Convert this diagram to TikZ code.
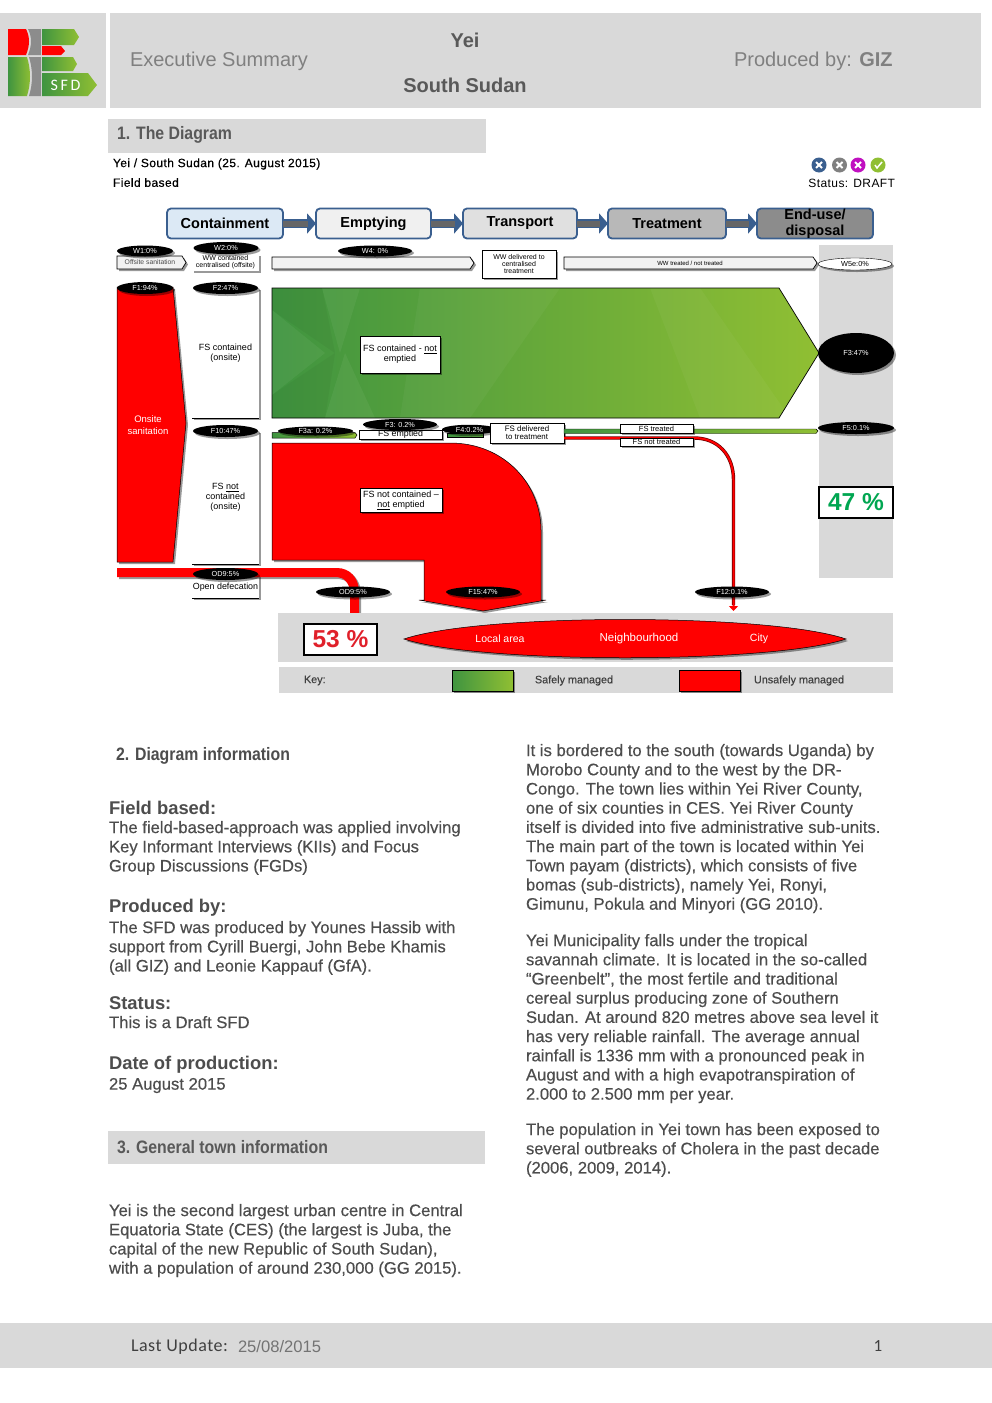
\documentclass[tikz,border=0pt]{standalone}
\usepackage{fontspec}
\setmainfont{Liberation Sans}
\newfontfamily\carl{Carlito}
\usetikzlibrary{shapes.geometric,shadows,arrows.meta}
\definecolor{pagegray}{HTML}{D9D9D9}
\definecolor{stageblue}{HTML}{3A5F8F}
\definecolor{headgray}{HTML}{595959}
\definecolor{bodygray}{HTML}{4D4D4D}
\definecolor{gdark}{HTML}{3F9440}
\definecolor{glight}{HTML}{90BF33}
\definecolor{sfdred}{HTML}{FF0000}
\definecolor{safegreen}{HTML}{00A651}
\definecolor{unsafered}{HTML}{E0202A}
\definecolor{paleblue}{HTML}{DCE9F5}
\definecolor{magentaic}{HTML}{C010C0}
\newcommand{\pxs}[1]{\fontsize{#1}{#1}\selectfont}
\newcommand{\heavy}{\addfontfeature{FakeBold=0.35}}
\newcommand{\spaced}{\addfontfeature{LetterSpace=3.5}}
\newcommand{\narrowed}{\addfontfeature{FakeStretch=0.88}}
\tikzset{
  shad/.style={drop shadow={shadow xshift=2pt,shadow yshift=-2pt,opacity=.4,fill=black}},
  plain/.style={inner sep=0pt,outer sep=0pt},
  stagebox/.style={draw=stageblue,line width=1.8pt,rounded corners=4pt,minimum height=30pt,plain,font=\pxs{14.5}\bfseries,text=black,align=center},
  blk/.style={ellipse,fill=black,text=white,plain,minimum height=11pt,minimum width=74pt,font=\pxs{7.3},shad},
  label/.style={rectangle,draw=black,line width=.5pt,fill=white,plain,align=center,font=\pxs{9},shad},
  col/.style={rectangle,fill=white,plain,align=center,font=\pxs{9},shad},
  body/.style={plain,anchor=north west,align=left,text=bodygray,font=\fontsize{16.65}{19.2}\selectfont\heavy},
  bhead/.style={plain,anchor=west,text=bodygray,font=\pxs{18.4}\bfseries},
  sect/.style={plain,anchor=west,text=headgray,font=\pxs{18}\bfseries\narrowed},
  redsh/.style={fill=sfdred,draw=black,line width=.5pt,shad},
  bar/.style={fill=pagegray,draw=none},
  stagelink/.style={draw=stageblue,line width=9pt,-{Triangle[length=9pt,width=20pt]}},
  stagecore/.style={draw=black!60,line width=6pt,shorten >=8pt},
}
\begin{document}
\begin{tikzpicture}[x=1pt,y=-1pt]
\useasboundingbox (0,0) rectangle (992,1403);
\fill[white] (0,0) rectangle (992,1403);
% header
\fill[bar] (0,13) rectangle (106,108);
\fill[bar] (110,13) rectangle (981,108);
% logo
\fill[sfdred] (8,29) -- (26,29) .. controls (30,37) and (30,45) .. (26,55) -- (8,55) -- cycle;
\fill[gray!90] (28,29) -- (41,29) -- (41,55) -- (28,55) .. controls (32,45) and (32,37) .. (28,29) -- cycle;
\shade[left color=gdark,right color=glight] (42,29) -- (74,29) -- (79,37) -- (74,45) -- (42,45) -- cycle;
\fill[sfdred] (42,46) -- (61,46) -- (65,51) -- (61,55) -- (42,55) -- cycle;
\shade[left color=gdark,right color=glight] (8,57) -- (27,57) .. controls (31,70) and (31,83) .. (27,96) -- (8,96) -- cycle;
\fill[gray!90] (29,57) -- (41,57) -- (41,96) -- (29,96) .. controls (33,83) and (33,70) .. (29,57) -- cycle;
\shade[left color=gdark,right color=glight] (42,57) -- (73,57) -- (77,64) -- (73,71) -- (42,71) -- cycle;
\shade[left color=gdark,right color=glight] (42,73) -- (88,73) -- (97,85) -- (88,96) -- (42,96) -- cycle;
\node[plain,text=white,font=\carl\pxs{16}] (sfd) at (65.5,85) {S\,F\,D};
% header text
\node[plain,anchor=west,text=black!50,font=\pxs{20}] (exec) at (130,61) {Executive Summary};
\node[plain,text=headgray,font=\pxs{20}\bfseries] (yei) at (465,40) {Yei};
\node[plain,text=headgray,font=\pxs{20}\bfseries] (ss) at (465,85) {South Sudan};
\node[plain,anchor=west,text=black!50,font=\pxs{20}] (prod) at (734,61) {Produced by: \textbf{GIZ}};
% section 1
\fill[bar] (108,119) rectangle (486,153);
\node[sect] (s1) at (117,135) {1. The Diagram};
\node[plain,anchor=west,font=\pxs{12}\heavy\spaced] (t1) at (113,164) {Yei / South Sudan (25. August 2015)};
\node[plain,anchor=west,font=\pxs{12}\heavy\spaced] (t2) at (113,182.5) {Field based};
\node[plain,anchor=east,font=\pxs{12}\spaced] (status) at (895,183) {Status: DRAFT};
% status icons
\foreach \nm/\cx/\cc in {ic1/819/stageblue,ic2/839.5/black!50,ic3/858/magentaic,ic4/878/glight}{
  \node[circle,fill=\cc,minimum size=15pt,plain] (\nm) at (\cx,165) {};
}
\foreach \cx in {819,839.5,858}{
  \draw[white,line width=2pt] (\cx-3,162) -- (\cx+3,168) (\cx+3,162) -- (\cx-3,168);
}
\draw[white,line width=1.5pt] (875,165) -- (877,168) -- (882,162);
% stages
\node[stagebox,fill=paleblue,minimum width=116pt] (c1) at (225,223.5) {Containment};
\node[stagebox,fill=black!6,minimum width=115pt] (c2) at (373.5,223.5) {Emptying};
\node[stagebox,fill=black!12,minimum width=114pt] (c3) at (520,223.5) {Transport};
\node[stagebox,fill=black!28,minimum width=118pt] (c4) at (667,223.5) {Treatment};
\node[stagebox,fill=black!45,minimum width=116pt] (c5) at (815,223.5) {End-use/\\[2pt]disposal};
\foreach \a/\b in {c1/c2,c2/c3,c3/c4,c4/c5}{
  \draw[stagelink] (\a) -- (\b);
  \draw[stagecore] (\a) -- (\b);
}
% gray column
\fill[bar] (819,245) rectangle (893,578);
% row of WW
\draw[fill=black!5,line width=.7pt,shad] (117,256) -- (182,256) -- (186,262.5) -- (182,269) -- (117,269) -- cycle;
\node[plain,font=\pxs{6.8},text=black!70] (off) at (150,262.5) {Offsite sanitation};
\node[blk,minimum width=56pt] (w1) at (145,251) {W1:0\%};
\node[col,minimum width=67pt,minimum height=17pt,font=\pxs{7}] (w2box) at (225.5,262) {WW contained\\centralised (offsite)};
\node[blk,minimum width=65pt,minimum height=12pt] (w2) at (226,248) {W2:0\%};
\draw[fill=black!5,line width=.7pt,shad] (272,257) -- (470,257) -- (474,263) -- (470,269) -- (272,269) -- cycle;
\node[blk] (w4) at (375,251) {W4: 0\%};
\node[label,minimum width=74pt,minimum height=28pt,font=\pxs{7}] (wwdel) at (519,264) {WW delivered to\\centralised\\treatment};
\draw[fill=black!5,line width=.7pt,shad] (564,257) -- (813,257) -- (817,263) -- (813,269) -- (564,269) -- cycle;
\node[plain,font=\pxs{6}] (wwt) at (690,263.5) {WW treated / not treated};
\node[ellipse,draw=black,fill=white,plain,minimum width=74pt,minimum height=12pt,font=\pxs{7.3},shad] (w5) at (855,264) {W5e:0\%};
% F1
\draw[redsh] (117,287) -- (173,287) -- (186,423) -- (173,562) -- (117,562) -- cycle;
\node[plain,align=center,text=white,font=\pxs{9.5}] (onsite) at (148,425) {Onsite\\[2pt]sanitation};
\node[blk,minimum width=56pt,minimum height=12pt] (f1) at (145,288) {F1:94\%};
% contained columns
\node[col,minimum width=67pt,minimum height=130pt] (f2box) at (225.5,353) {FS contained\\[1pt](onsite)};
\draw[line width=.7pt] (f2box.south west) -- (f2box.south east);
\node[blk,minimum width=65pt,minimum height=12pt] (f2) at (225.5,288) {F2:47\%};
\node[col,minimum width=67pt,minimum height=133pt] (f10box) at (225.5,497.5) {FS \underline{not}\\[1pt]contained\\[1pt](onsite)};
\draw[line width=.7pt] (f10box.south west) -- (f10box.south east);
\node[blk,minimum width=65pt,minimum height=12pt] (f10) at (225.5,431) {F10:47\%};
\node[col,minimum width=67pt,minimum height=26pt] (odbox) at (225.5,585) {};
\draw[line width=.7pt] (odbox.south west) -- (odbox.south east);
\node[plain,font=\pxs{8.9}] (odtext) at (225.5,587) {Open defecation};
% OD band
\draw[redsh,draw=none] (117,568) -- (337,568) .. controls (350,568) and (359,578) .. (359,592) -- (359,613) -- (350,613) -- (350,592) .. controls (350,584) and (344,577) .. (337,577) -- (117,577) -- cycle;
\node[blk,minimum width=65pt,minimum height=12pt] (od1) at (225.5,574) {OD9:5\%};
\node[blk] (od2) at (353,592) {OD9:5\%};
% green arrow
\begin{scope}
  \shade[left color=gdark,right color=glight,draw=none] (272,288) -- (779,288) -- (819,353) -- (779,418) -- (272,418) -- cycle;
  \clip (272,288) -- (779,288) -- (819,353) -- (779,418) -- (272,418) -- cycle;
  \fill[white,opacity=.05] (272,310) -- (325,353) -- (272,395) -- cycle;
  \fill[white,opacity=.05] (322,288) -- (360,288) -- (340,353) -- cycle;
  \fill[white,opacity=.05] (325,418) -- (375,418) -- (345,353) -- cycle;
  \fill[black,opacity=.04] (272,288) -- (322,288) -- (335,353) -- (272,310) -- cycle;
  \fill[black,opacity=.04] (272,418) -- (325,418) -- (335,353) -- (272,395) -- cycle;
  \fill[white,opacity=.04] (420,288) -- (560,288) -- (470,418) -- (400,418) -- cycle;
  \fill[white,opacity=.04] (650,288) -- (700,288) -- (790,418) -- (700,418) -- cycle;
\end{scope}
\draw[line width=.7pt] (272,288) -- (779,288) -- (819,353) -- (779,418) -- (272,418) -- cycle;
\node[label,minimum width=80pt,minimum height=37pt] (nemp) at (400,354.5) {FS contained - \underline{not}\\[1pt]emptied};
\node[blk,minimum width=76pt,minimum height=40pt] (f3) at (856,353) {F3:47\%};
\node[blk,minimum width=76pt,minimum height=12pt] (f5) at (856,428) {F5:0.1\%};
% middle row
\shade[left color=gdark,right color=glight,draw=black,line width=.5pt] (272,432.5) -- (355,432.5) -- (357,435) -- (355,438) -- (272,438) -- cycle;
\node[blk,minimum width=75pt,minimum height=9pt] (f3a) at (315.5,431) {F3a: 0.2\%};
\node[label,minimum width=83pt,minimum height=8.5pt,font=\pxs{8.8}] (femp) at (400.5,434.5) {FS emptied};
\node[blk,minimum height=11pt] (f3b) at (400,424.5) {F3: 0.2\%};
\shade[left color=gdark,right color=gdark!70!glight,draw=black,line width=.4pt] (447,433) rectangle (483,437.5);
\node[blk,minimum width=55pt,minimum height=9.5pt] (f4) at (469.5,429.5) {F4:0.2\%};
\node[label,minimum width=74pt,minimum height=20pt,font=\pxs{7.9}] (fdel) at (527,433) {FS delivered\\to treatment};
\shade[left color=gdark,right color=glight,draw=black,line width=.4pt] (564,429) -- (816,429) -- (818,431) -- (816,433.5) -- (564,433.5) -- cycle;
\coordinate (rstart) at (564,438);
\coordinate (rend) at (733.5,611);
\draw[black!60!red,line width=3.4pt] (rstart) -- (694,438) .. controls (718,438) and (733.5,455) .. (733.5,480) -- (733.5,605);
\draw[sfdred,line width=2pt,-{Triangle[length=5pt,width=9pt]}] (rstart) -- (694,438) .. controls (718,438) and (733.5,455) .. (733.5,480) -- (rend);
\node[label,minimum width=73pt,minimum height=9pt,font=\pxs{7.5}] (ftr) at (656.5,428.5) {FS treated};
\node[label,minimum width=73pt,minimum height=8.5pt,font=\pxs{7.5}] (fntr) at (656.5,442) {FS not treated};
\node[blk] (f12) at (732,592) {F12:0.1\%};
% big red
\draw[redsh] (272,443) -- (450,443) .. controls (505,443) and (541,485) .. (541,530) -- (541,600) -- (546,600) -- (483,611) -- (419,600) -- (424,600) -- (424,560) -- (272,560) -- cycle;
\node[label,minimum width=82pt,minimum height=24pt] (nemp2) at (401,500) {FS not contained --\\[1pt]\underline{not} emptied};
\node[blk] (f15) at (483,592) {F15:47\%};
% 47 %
\node[draw=black,line width=1.5pt,fill=white,plain,minimum width=74pt,minimum height=31pt,font=\pxs{24.5}\bfseries,text=safegreen] (p47) at (856,502.5) {47 \%};
% bottom bars
\fill[bar] (278,613) rectangle (893,662);
\fill[bar] (279,667) rectangle (893,693);
\node[draw=black,line width=1.5pt,fill=white,plain,minimum width=73pt,minimum height=31pt,font=\pxs{24.5}\bfseries,text=unsafered] (p53) at (340.5,639.5) {53 \%};
\draw[redsh] (404,639) .. controls (480,613) and (770,613) .. (846,639) .. controls (770,664) and (480,664) .. (404,639) -- cycle;
\node[plain,text=white,font=\pxs{10.5}] (la) at (500,638.5) {Local area};
\node[plain,text=white,font=\pxs{11.5}] (nb) at (639,638.5) {Neighbourhood};
\node[plain,text=white,font=\pxs{10.5}] (ci) at (759,638.5) {City};
\node[plain,anchor=west,text=black!75,font=\pxs{10.8}\heavy] (key) at (304,680.5) {Key:};
\shade[left color=gdark,right color=glight,draw=black,line width=.5pt,shad] (452,670) rectangle (513,691);
\node[plain,anchor=west,text=black!75,font=\pxs{10.8}\heavy] (safe) at (535,680.5) {Safely managed};
\draw[redsh] (679,670) rectangle (740,691);
\node[plain,anchor=west,text=black!75,font=\pxs{10.8}\heavy] (unsafe) at (754,680.5) {Unsafely managed};
% section 2
\node[plain,anchor=west,text=bodygray,font=\pxs{18}\bfseries\narrowed] (s2) at (116,756) {2. Diagram information};
\node[bhead] (h1) at (109,808) {Field based:};
\node[body] (b1) at (109,821) {The field-based-approach was applied involving\\Key Informant Interviews (KIIs) and Focus\\Group Discussions (FGDs)};
\node[bhead] (h2) at (109,907.5) {Produced by:};
\node[body] (b2) at (109,921) {The SFD was produced by Younes Hassib with\\support from Cyrill Buergi, John Bebe Khamis\\(all GIZ) and Leonie Kappauf (GfA).};
\node[bhead] (h3) at (109,1003) {Status:};
\node[body] (b3) at (109,1016) {This is a Draft SFD};
\node[bhead] (h4) at (109,1064.5) {Date of production:};
\node[body] (b4) at (109,1078) {25 August 2015};
% section 3
\fill[bar] (108,1131) rectangle (485,1164);
\node[sect] (s3) at (117,1147) {3. General town information};
\node[body] (b5) at (109,1204) {Yei is the second largest urban centre in Central\\Equatoria State (CES) (the largest is Juba, the\\capital of the new Republic of South Sudan),\\with a population of around 230,000 (GG 2015).};
% right column
\node[body] (r1) at (526,744) {It is bordered to the south (towards Uganda) by\\Morobo County and to the west by the DR-\\Congo. The town lies within Yei River County,\\one of six counties in CES. Yei River County\\itself is divided into five administrative sub-units.\\The main part of the town is located within Yei\\Town payam (districts), which consists of five\\bomas (sub-districts), namely Yei, Ronyi,\\Gimunu, Pokula and Minyori (GG 2010).};
\node[body] (r2) at (526,934) {Yei Municipality falls under the tropical\\savannah climate. It is located in the so-called\\``Greenbelt'', the most fertile and traditional\\cereal surplus producing zone of Southern\\Sudan. At around 820 metres above sea level it\\has very reliable rainfall. The average annual\\rainfall is 1336 mm with a pronounced peak in\\August and with a high evapotranspiration of\\2.000 to 2.500 mm per year.};
\node[body] (r3) at (526,1123) {The population in Yei town has been exposed to\\several outbreaks of Cholera in the past decade\\(2006, 2009, 2014).};
% footer
\fill[bar] (0,1323) rectangle (992,1368);
\node[plain,anchor=west,text=black!75,font=\carl\pxs{18}\addfontfeature{LetterSpace=3}] (lu) at (131,1346.5) {Last Update:};
\node[plain,anchor=west,text=black!55,font=\pxs{16.6}] (lud) at (238,1346.5) {25/08/2015};
\node[plain,text=black!75,font=\carl\pxs{17}] (pg) at (878,1346.5) {1};
\end{tikzpicture}
\end{document}
